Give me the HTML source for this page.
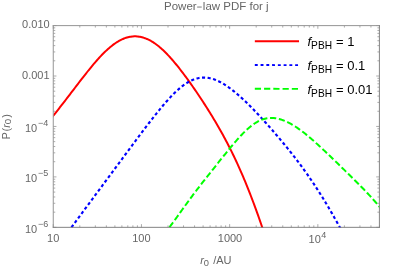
<!DOCTYPE html>
<html><head><meta charset="utf-8"><title>Power-law PDF for j</title>
<style>
html,body{margin:0;padding:0;background:#fff;}
body{width:407px;height:270px;overflow:hidden;}
svg{display:block;}
text{font-family:"Liberation Sans",sans-serif;}
.t{font-size:11px;fill:#666;}
.l{font-size:13px;fill:#000;}
</style></head><body>
<svg width="407" height="270" viewBox="0 0 407 270">
<rect x="0" y="0" width="407" height="270" fill="#fff"/>
<defs><filter id="id" x="0" y="0" width="407" height="270" filterUnits="userSpaceOnUse"><feOffset dx="0" dy="0"/></filter><clipPath id="c"><rect x="53.25" y="25.55" width="326.45" height="202.40"/></clipPath></defs>

<g clip-path="url(#c)" fill="none" stroke-width="2" stroke-linejoin="round">
<path d="M51.25,118.21 L53.25,115.73 L54.00,114.80 L55.00,113.55 L56.00,112.30 L57.00,111.04 L58.00,109.78 L59.00,108.51 L60.00,107.23 L61.00,105.96 L62.00,104.67 L63.00,103.39 L64.00,102.10 L65.00,100.80 L66.00,99.50 L67.00,98.20 L68.00,96.90 L69.00,95.59 L70.00,94.29 L71.00,92.98 L72.00,91.67 L73.00,90.36 L74.00,89.05 L75.00,87.74 L76.00,86.43 L77.00,85.12 L78.00,83.82 L79.00,82.51 L80.00,81.21 L81.00,79.92 L82.00,78.63 L83.00,77.34 L84.00,76.06 L85.00,74.78 L86.00,73.51 L87.00,72.25 L88.00,71.00 L89.00,69.76 L90.00,68.53 L91.00,67.30 L92.00,66.09 L93.00,64.89 L94.00,63.71 L95.00,62.54 L96.00,61.38 L97.00,60.24 L98.00,59.12 L99.00,58.01 L100.00,56.93 L101.00,55.86 L102.00,54.81 L103.00,53.79 L104.00,52.78 L105.00,51.80 L106.00,50.85 L107.00,49.92 L108.00,49.01 L109.00,48.13 L110.00,47.28 L111.00,46.45 L112.00,45.66 L113.00,44.89 L114.00,44.16 L115.00,43.45 L116.00,42.77 L117.00,42.13 L118.00,41.52 L119.00,40.94 L120.00,40.39 L121.00,39.87 L122.00,39.39 L123.00,38.95 L124.00,38.54 L125.00,38.16 L126.00,37.82 L127.00,37.51 L128.00,37.24 L129.00,37.00 L130.00,36.81 L131.00,36.64 L132.00,36.52 L133.00,36.42 L134.00,36.37 L135.00,36.35 L136.00,36.37 L137.00,36.43 L138.00,36.52 L139.00,36.65 L140.00,36.81 L141.00,37.01 L142.00,37.25 L143.00,37.53 L144.00,37.84 L145.00,38.18 L146.00,38.56 L147.00,38.98 L148.00,39.43 L149.00,39.91 L150.00,40.43 L151.00,40.99 L152.00,41.58 L153.00,42.20 L154.00,42.85 L155.00,43.53 L156.00,44.25 L157.00,45.00 L158.00,45.78 L159.00,46.59 L160.00,47.42 L161.00,48.29 L162.00,49.19 L163.00,50.11 L164.00,51.06 L165.00,52.03 L166.00,53.03 L167.00,54.06 L168.00,55.11 L169.00,56.18 L170.00,57.27 L171.00,58.39 L172.00,59.52 L173.00,60.68 L174.00,61.85 L175.00,63.04 L176.00,64.25 L177.00,65.48 L178.00,66.72 L179.00,67.98 L180.00,69.25 L181.00,70.53 L182.00,71.84 L183.00,73.15 L184.00,74.48 L185.00,75.82 L186.00,77.17 L187.00,78.53 L188.00,79.91 L189.00,81.30 L190.00,82.69 L191.00,84.10 L192.00,85.52 L193.00,86.95 L194.00,88.39 L195.00,89.84 L196.00,91.30 L197.00,92.77 L198.00,94.25 L199.00,95.74 L200.00,97.24 L201.00,98.75 L202.00,100.28 L203.00,101.81 L204.00,103.35 L205.00,104.90 L206.00,106.47 L207.00,108.04 L208.00,109.63 L209.00,111.22 L210.00,112.83 L211.00,114.46 L212.00,116.09 L213.00,117.74 L214.00,119.41 L215.00,121.08 L216.00,122.78 L217.00,124.48 L218.00,126.21 L219.00,127.95 L220.00,129.71 L221.00,131.48 L222.00,133.28 L223.00,135.09 L224.00,136.92 L225.00,138.78 L226.00,140.66 L227.00,142.56 L228.00,144.48 L229.00,146.42 L230.00,148.39 L231.00,150.39 L232.00,152.41 L233.00,154.46 L234.00,156.53 L235.00,158.63 L236.00,160.76 L237.00,162.92 L238.00,165.10 L239.00,167.32 L240.00,169.56 L241.00,171.83 L242.00,174.14 L243.00,176.47 L244.00,178.83 L245.00,181.23 L246.00,183.65 L247.00,186.11 L248.00,188.59 L249.00,191.11 L250.00,193.66 L251.00,196.24 L252.00,198.85 L253.00,201.50 L254.00,204.17 L255.00,206.88 L256.00,209.62 L257.00,212.39 L258.00,215.19 L259.00,218.02 L260.00,220.88 L261.00,223.77 L262.22,227.35 L264.22,233.24" stroke="#ff0000"/>
<path d="M69.47,230.09 L71.47,227.35 L72.00,226.62 L73.00,225.26 L74.00,223.89 L75.00,222.53 L76.00,221.17 L77.00,219.81 L78.00,218.45 L79.00,217.09 L80.00,215.73 L81.00,214.38 L82.00,213.02 L83.00,211.67 L84.00,210.32 L85.00,208.96 L86.00,207.61 L87.00,206.26 L88.00,204.91 L89.00,203.57 L90.00,202.22 L91.00,200.87 L92.00,199.52 L93.00,198.17 L94.00,196.83 L95.00,195.48 L96.00,194.13 L97.00,192.79 L98.00,191.44 L99.00,190.09 L100.00,188.75 L101.00,187.40 L102.00,186.05 L103.00,184.70 L104.00,183.36 L105.00,182.01 L106.00,180.66 L107.00,179.31 L108.00,177.96 L109.00,176.61 L110.00,175.27 L111.00,173.92 L112.00,172.57 L113.00,171.22 L114.00,169.86 L115.00,168.51 L116.00,167.16 L117.00,165.81 L118.00,164.46 L119.00,163.11 L120.00,161.76 L121.00,160.41 L122.00,159.05 L123.00,157.70 L124.00,156.35 L125.00,155.00 L126.00,153.65 L127.00,152.30 L128.00,150.95 L129.00,149.60 L130.00,148.26 L131.00,146.91 L132.00,145.56 L133.00,144.22 L134.00,142.88 L135.00,141.54 L136.00,140.20 L137.00,138.86 L138.00,137.52 L139.00,136.19 L140.00,134.86 L141.00,133.53 L142.00,132.20 L143.00,130.88 L144.00,129.56 L145.00,128.24 L146.00,126.93 L147.00,125.62 L148.00,124.32 L149.00,123.02 L150.00,121.72 L151.00,120.43 L152.00,119.15 L153.00,117.87 L154.00,116.60 L155.00,115.33 L156.00,114.07 L157.00,112.82 L158.00,111.58 L159.00,110.35 L160.00,109.13 L161.00,107.92 L162.00,106.72 L163.00,105.54 L164.00,104.36 L165.00,103.20 L166.00,102.05 L167.00,100.92 L168.00,99.81 L169.00,98.71 L170.00,97.63 L171.00,96.56 L172.00,95.52 L173.00,94.49 L174.00,93.49 L175.00,92.51 L176.00,91.55 L177.00,90.62 L178.00,89.71 L179.00,88.83 L180.00,87.98 L181.00,87.15 L182.00,86.36 L183.00,85.59 L184.00,84.86 L185.00,84.16 L186.00,83.49 L187.00,82.85 L188.00,82.25 L189.00,81.68 L190.00,81.15 L191.00,80.65 L192.00,80.19 L193.00,79.77 L194.00,79.38 L195.00,79.03 L196.00,78.71 L197.00,78.44 L198.00,78.20 L199.00,78.00 L200.00,77.83 L201.00,77.70 L202.00,77.61 L203.00,77.56 L204.00,77.55 L205.00,77.57 L206.00,77.62 L207.00,77.72 L208.00,77.84 L209.00,78.01 L210.00,78.21 L211.00,78.44 L212.00,78.70 L213.00,79.00 L214.00,79.33 L215.00,79.69 L216.00,80.08 L217.00,80.50 L218.00,80.95 L219.00,81.42 L220.00,81.92 L221.00,82.45 L222.00,83.01 L223.00,83.59 L224.00,84.19 L225.00,84.81 L226.00,85.46 L227.00,86.13 L228.00,86.82 L229.00,87.53 L230.00,88.25 L231.00,89.00 L232.00,89.77 L233.00,90.55 L234.00,91.35 L235.00,92.17 L236.00,93.00 L237.00,93.85 L238.00,94.71 L239.00,95.58 L240.00,96.47 L241.00,97.38 L242.00,98.29 L243.00,99.22 L244.00,100.16 L245.00,101.11 L246.00,102.07 L247.00,103.04 L248.00,104.02 L249.00,105.01 L250.00,106.01 L251.00,107.02 L252.00,108.04 L253.00,109.06 L254.00,110.10 L255.00,111.14 L256.00,112.19 L257.00,113.24 L258.00,114.31 L259.00,115.38 L260.00,116.45 L261.00,117.54 L262.00,118.62 L263.00,119.72 L264.00,120.82 L265.00,121.92 L266.00,123.04 L267.00,124.15 L268.00,125.27 L269.00,126.40 L270.00,127.53 L271.00,128.67 L272.00,129.82 L273.00,130.96 L274.00,132.12 L275.00,133.28 L276.00,134.44 L277.00,135.61 L278.00,136.78 L279.00,137.96 L280.00,139.15 L281.00,140.34 L282.00,141.53 L283.00,142.74 L284.00,143.95 L285.00,145.16 L286.00,146.38 L287.00,147.61 L288.00,148.85 L289.00,150.09 L290.00,151.34 L291.00,152.59 L292.00,153.86 L293.00,155.13 L294.00,156.41 L295.00,157.70 L296.00,159.00 L297.00,160.31 L298.00,161.63 L299.00,162.96 L300.00,164.30 L301.00,165.65 L302.00,167.00 L303.00,168.38 L304.00,169.76 L305.00,171.15 L306.00,172.55 L307.00,173.97 L308.00,175.40 L309.00,176.84 L310.00,178.29 L311.00,179.75 L312.00,181.23 L313.00,182.72 L314.00,184.22 L315.00,185.73 L316.00,187.26 L317.00,188.80 L318.00,190.35 L319.00,191.91 L320.00,193.49 L321.00,195.08 L322.00,196.68 L323.00,198.30 L324.00,199.93 L325.00,201.57 L326.00,203.22 L327.00,204.89 L328.00,206.57 L329.00,208.26 L330.00,209.97 L331.00,211.68 L332.00,213.41 L333.00,215.15 L334.00,216.91 L335.00,218.67 L336.00,220.45 L337.00,222.24 L338.00,224.04 L339.00,225.85 L339.82,227.35 L341.82,231.00" stroke="#0000ff" stroke-width="2.15" stroke-dasharray="3.1 2.5" stroke-dashoffset="-3.39"/>
<path d="M167.38,229.96 L169.38,227.35 L170.00,226.54 L171.00,225.21 L172.00,223.87 L173.00,222.52 L174.00,221.16 L175.00,219.78 L176.00,218.40 L177.00,217.02 L178.00,215.63 L179.00,214.23 L180.00,212.84 L181.00,211.44 L182.00,210.04 L183.00,208.65 L184.00,207.26 L185.00,205.87 L186.00,204.49 L187.00,203.11 L188.00,201.74 L189.00,200.37 L190.00,199.01 L191.00,197.66 L192.00,196.31 L193.00,194.97 L194.00,193.64 L195.00,192.32 L196.00,191.00 L197.00,189.69 L198.00,188.38 L199.00,187.09 L200.00,185.79 L201.00,184.51 L202.00,183.22 L203.00,181.95 L204.00,180.67 L205.00,179.40 L206.00,178.13 L207.00,176.86 L208.00,175.59 L209.00,174.33 L210.00,173.07 L211.00,171.80 L212.00,170.54 L213.00,169.28 L214.00,168.02 L215.00,166.77 L216.00,165.51 L217.00,164.25 L218.00,163.00 L219.00,161.74 L220.00,160.49 L221.00,159.24 L222.00,157.99 L223.00,156.74 L224.00,155.50 L225.00,154.26 L226.00,153.03 L227.00,151.80 L228.00,150.57 L229.00,149.35 L230.00,148.14 L231.00,146.93 L232.00,145.74 L233.00,144.55 L234.00,143.37 L235.00,142.20 L236.00,141.05 L237.00,139.91 L238.00,138.79 L239.00,137.68 L240.00,136.58 L241.00,135.51 L242.00,134.46 L243.00,133.42 L244.00,132.41 L245.00,131.43 L246.00,130.47 L247.00,129.54 L248.00,128.63 L249.00,127.76 L250.00,126.92 L251.00,126.11 L252.00,125.34 L253.00,124.60 L254.00,123.90 L255.00,123.24 L256.00,122.61 L257.00,122.03 L258.00,121.48 L259.00,120.97 L260.00,120.50 L261.00,120.07 L262.00,119.68 L263.00,119.33 L264.00,119.02 L265.00,118.76 L266.00,118.53 L267.00,118.34 L268.00,118.19 L269.00,118.08 L270.00,118.01 L271.00,117.98 L272.00,117.98 L273.00,118.02 L274.00,118.10 L275.00,118.21 L276.00,118.35 L277.00,118.52 L278.00,118.73 L279.00,118.97 L280.00,119.24 L281.00,119.54 L282.00,119.86 L283.00,120.22 L284.00,120.60 L285.00,121.01 L286.00,121.44 L287.00,121.90 L288.00,122.38 L289.00,122.88 L290.00,123.41 L291.00,123.96 L292.00,124.53 L293.00,125.13 L294.00,125.74 L295.00,126.37 L296.00,127.02 L297.00,127.68 L298.00,128.37 L299.00,129.07 L300.00,129.79 L301.00,130.52 L302.00,131.26 L303.00,132.03 L304.00,132.80 L305.00,133.59 L306.00,134.39 L307.00,135.20 L308.00,136.03 L309.00,136.86 L310.00,137.71 L311.00,138.56 L312.00,139.42 L313.00,140.30 L314.00,141.18 L315.00,142.07 L316.00,142.97 L317.00,143.87 L318.00,144.78 L319.00,145.70 L320.00,146.62 L321.00,147.55 L322.00,148.48 L323.00,149.42 L324.00,150.36 L325.00,151.31 L326.00,152.25 L327.00,153.21 L328.00,154.16 L329.00,155.12 L330.00,156.08 L331.00,157.04 L332.00,158.00 L333.00,158.97 L334.00,159.93 L335.00,160.90 L336.00,161.87 L337.00,162.84 L338.00,163.81 L339.00,164.78 L340.00,165.75 L341.00,166.72 L342.00,167.70 L343.00,168.67 L344.00,169.65 L345.00,170.62 L346.00,171.60 L347.00,172.58 L348.00,173.55 L349.00,174.53 L350.00,175.52 L351.00,176.50 L352.00,177.48 L353.00,178.47 L354.00,179.46 L355.00,180.45 L356.00,181.45 L357.00,182.45 L358.00,183.45 L359.00,184.45 L360.00,185.47 L361.00,186.48 L362.00,187.50 L363.00,188.53 L364.00,189.56 L365.00,190.60 L366.00,191.65 L367.00,192.70 L368.00,193.77 L369.00,194.84 L370.00,195.92 L371.00,197.01 L372.00,198.11 L373.00,199.23 L374.00,200.36 L375.00,201.50 L376.00,202.65 L377.00,203.82 L378.00,205.00 L379.00,206.20 L379.40,206.69 L381.40,209.12" stroke="#00ff00" stroke-dasharray="6.2 2.7" stroke-dashoffset="-3.29"/>
</g>
<path d="M53.25,227.35v-3.2M53.25,25.55v3.2M79.80,227.35v-2.0M79.80,25.55v2.0M95.33,227.35v-2.0M95.33,25.55v2.0M106.35,227.35v-2.0M106.35,25.55v2.0M114.90,227.35v-2.0M114.90,25.55v2.0M121.88,227.35v-2.0M121.88,25.55v2.0M127.79,227.35v-2.0M127.79,25.55v2.0M132.90,227.35v-2.0M132.90,25.55v2.0M137.41,227.35v-2.0M137.41,25.55v2.0M141.45,227.35v-3.2M141.45,25.55v3.2M168.00,227.35v-2.0M168.00,25.55v2.0M183.53,227.35v-2.0M183.53,25.55v2.0M194.55,227.35v-2.0M194.55,25.55v2.0M203.10,227.35v-2.0M203.10,25.55v2.0M210.08,227.35v-2.0M210.08,25.55v2.0M215.99,227.35v-2.0M215.99,25.55v2.0M221.10,227.35v-2.0M221.10,25.55v2.0M225.61,227.35v-2.0M225.61,25.55v2.0M229.65,227.35v-3.2M229.65,25.55v3.2M256.20,227.35v-2.0M256.20,25.55v2.0M271.73,227.35v-2.0M271.73,25.55v2.0M282.75,227.35v-2.0M282.75,25.55v2.0M291.30,227.35v-2.0M291.30,25.55v2.0M298.28,227.35v-2.0M298.28,25.55v2.0M304.19,227.35v-2.0M304.19,25.55v2.0M309.30,227.35v-2.0M309.30,25.55v2.0M313.81,227.35v-2.0M313.81,25.55v2.0M317.85,227.35v-3.2M317.85,25.55v3.2M344.40,227.35v-2.0M344.40,25.55v2.0M359.93,227.35v-2.0M359.93,25.55v2.0M370.95,227.35v-2.0M370.95,25.55v2.0M379.50,227.35v-2.0M379.50,25.55v2.0M53.25,227.35h3.2M379.4,227.35h-3.2M53.25,212.16h2.0M379.4,212.16h-2.0M53.25,203.28h2.0M379.4,203.28h-2.0M53.25,196.98h2.0M379.4,196.98h-2.0M53.25,192.09h2.0M379.4,192.09h-2.0M53.25,188.09h2.0M379.4,188.09h-2.0M53.25,184.71h2.0M379.4,184.71h-2.0M53.25,181.79h2.0M379.4,181.79h-2.0M53.25,179.21h2.0M379.4,179.21h-2.0M53.25,176.90h3.2M379.4,176.90h-3.2M53.25,161.71h2.0M379.4,161.71h-2.0M53.25,152.83h2.0M379.4,152.83h-2.0M53.25,146.53h2.0M379.4,146.53h-2.0M53.25,141.64h2.0M379.4,141.64h-2.0M53.25,137.64h2.0M379.4,137.64h-2.0M53.25,134.26h2.0M379.4,134.26h-2.0M53.25,131.34h2.0M379.4,131.34h-2.0M53.25,128.76h2.0M379.4,128.76h-2.0M53.25,126.45h3.2M379.4,126.45h-3.2M53.25,111.26h2.0M379.4,111.26h-2.0M53.25,102.38h2.0M379.4,102.38h-2.0M53.25,96.08h2.0M379.4,96.08h-2.0M53.25,91.19h2.0M379.4,91.19h-2.0M53.25,87.19h2.0M379.4,87.19h-2.0M53.25,83.81h2.0M379.4,83.81h-2.0M53.25,80.89h2.0M379.4,80.89h-2.0M53.25,78.31h2.0M379.4,78.31h-2.0M53.25,76.00h3.2M379.4,76.00h-3.2M53.25,60.81h2.0M379.4,60.81h-2.0M53.25,51.93h2.0M379.4,51.93h-2.0M53.25,45.63h2.0M379.4,45.63h-2.0M53.25,40.74h2.0M379.4,40.74h-2.0M53.25,36.74h2.0M379.4,36.74h-2.0M53.25,33.36h2.0M379.4,33.36h-2.0M53.25,30.44h2.0M379.4,30.44h-2.0M53.25,27.86h2.0M379.4,27.86h-2.0M53.25,25.55h3.2M379.4,25.55h-3.2" stroke="#666" stroke-width="0.55" fill="none"/>
<path d="M52.75,25.62H379.9M53.25,25.150000000000002V227.75" stroke="#959595" stroke-width="1" fill="none"/>
<path d="M52.75,227.33H379.9M379.4,25.150000000000002V227.75" stroke="#838383" stroke-width="1" fill="none"/>
<g filter="url(#id)"><g transform="rotate(0.02 203 135)">
<text class="t" x="164.0" y="9.9" style="font-size:11.5px">Power</text>
<path d="M197.1,7.05H201.7" stroke="#666" stroke-width="0.85" fill="none"/>
<text class="t" x="202.8" y="9.9" style="font-size:11.5px">law PDF for j</text>
<text class="t" x="49.6" y="28.55" text-anchor="end">0.010</text>
<text class="t" x="49.6" y="79.00" text-anchor="end">0.001</text>
<text class="t" x="25.0" y="131.75">10<tspan dy="-5.7" dx="0.7" style="font-size:9px">−4</tspan></text>
<text class="t" x="25.0" y="182.20">10<tspan dy="-5.7" dx="0.7" style="font-size:9px">−5</tspan></text>
<text class="t" x="25.0" y="232.65">10<tspan dy="-5.7" dx="0.7" style="font-size:9px">−6</tspan></text>
<text class="t" x="53.25" y="241.7" text-anchor="middle">10</text>
<text class="t" x="141.45" y="241.7" text-anchor="middle">100</text>
<text class="t" x="230.05" y="241.7" text-anchor="middle">1000</text>
<text class="t" x="308.65" y="243.29999999999998">10<tspan dy="-5.7" dx="0.3" style="font-size:9px">4</tspan></text>
<text class="t" x="200.2" y="264" font-style="italic">r</text>
<text class="t" x="203.9" y="265.5" style="font-size:9.3px">0</text>
<text class="t" x="213.2" y="264">/AU</text>
<g transform="translate(9.7,138.8) rotate(-90)"><text class="t" x="-0.7" y="0">P</text><text class="t" x="7.3" y="0">(</text><text class="t" x="11.0" y="0" font-style="italic">r</text><text class="t" x="14.6" y="1.6" style="font-size:9.8px">0</text><text class="t" x="21.0" y="0">)</text></g>
<path d="M254.8,41.2H299.0" stroke="#ff0000" stroke-width="1.9" fill="none"/>
<text class="l" x="307.4" y="46.15" font-style="italic">f</text>
<text class="l" x="311.1" y="49.10" style="font-size:10.2px">PBH</text>
<text class="l" x="336.0" y="46.15">= 1</text>
<path d="M254.8,65.05H299.0" stroke="#0000ff" stroke-width="1.9" fill="none" stroke-dasharray="2.9 2.86"/>
<text class="l" x="307.4" y="70.00" font-style="italic">f</text>
<text class="l" x="311.1" y="72.95" style="font-size:10.2px">PBH</text>
<text class="l" x="336.0" y="70.00">= 0.1</text>
<path d="M254.8,88.8H299.0" stroke="#00ff00" stroke-width="1.9" fill="none" stroke-dasharray="6.2 3.05"/>
<text class="l" x="307.4" y="93.75" font-style="italic">f</text>
<text class="l" x="311.1" y="96.70" style="font-size:10.2px">PBH</text>
<text class="l" x="336.0" y="93.75">= 0.01</text>
</g></g>
</svg></body></html>
